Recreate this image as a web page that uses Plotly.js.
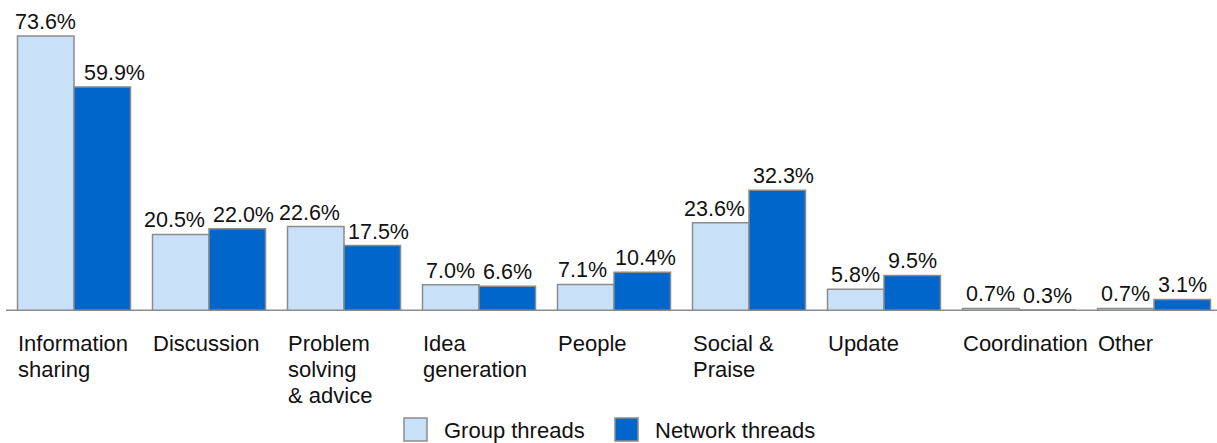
<!DOCTYPE html>
<html>
<head>
<meta charset="utf-8">
<script src="https://cdn.plot.ly/plotly-3.0.1.min.js"></script>
<style>html,body{margin:0;padding:0;background:#fff;}#chart{width:1217px;height:443px;}</style>
</head>
<body>
<div id="chart"></div>
<script>
var categories = ["Information<br>sharing", "Discussion", "Problem<br>solving<br>& advice", "Idea<br>generation", "People", "Social &<br>Praise", "Update", "Coordination", "Other"];
var groupThreads = [73.6, 20.5, 22.6, 7.0, 7.1, 23.6, 5.8, 0.7, 0.7];
var networkThreads = [59.9, 22.0, 17.5, 6.6, 10.4, 32.3, 9.5, 0.3, 3.1];
var seriesNames = ["Group threads", "Network threads"];

var W = 1217, H = 443;
var L = 6, T = 12, PW = 1211, PH = 299; // plot area
var PITCH = 135; // px per category
var BARGAP = 0.163;
var lightColor = "#c8e0f8", darkColor = "#0066cc", borderColor = "#8c8c8c";
var FONT = "Liberation Sans, Arial, sans-serif";
var VAL_SIZE = 21.5, CAT_SIZE = 22;

function px2paperX(px){ return (px - L) / PW; }
function px2paperY(py){ return (T + PH - py) / PH; }

var idx = categories.map(function(_, i){ return i; });

var traces = [
  {type: "bar", x: idx, y: groupThreads, name: seriesNames[0],
   marker: {color: lightColor, line: {color: borderColor, width: 1.5}}, hoverinfo: "none"},
  {type: "bar", x: idx, y: networkThreads, name: seriesNames[1],
   marker: {color: darkColor, line: {color: borderColor, width: 1.5}}, hoverinfo: "none"}
];

// value labels with simple overlap avoidance
var ctx = document.createElement("canvas").getContext("2d");
ctx.font = VAL_SIZE + "px 'Liberation Sans'";
function fmt(v){ return v.toFixed(1) + "%"; }
var half = (1 - BARGAP) / 4; // bar-center offset in axis units
var xRange0 = -(74 - L) / PITCH;
function dataToPx(x){ return L + (x - xRange0) * PITCH; }
var annotations = [];
var MIN_GAP = 8;
idx.forEach(function(i){
  var tA = fmt(groupThreads[i]), tB = fmt(networkThreads[i]);
  var wA = ctx.measureText(tA).width, wB = ctx.measureText(tB).width;
  var cA = dataToPx(i - half), cB = dataToPx(i + half);
  var gap = (cB - wB / 2) - (cA + wA / 2);
  var sA = 0, sB = 0;
  if (gap < MIN_GAP) {
    var need = MIN_GAP - gap;
    sA = -need / 2; sB = need / 2;
    var leftEdge = cA + sA - wA / 2;
    if (leftEdge < 15) { var fix = 15 - leftEdge; sA += fix; sB = need + sA; }
  }
  annotations.push({x: i - half, xref: "x", y: groupThreads[i], yref: "y", xshift: sA, yshift: 1,
    xanchor: "center", yanchor: "bottom", text: tA, showarrow: false, borderpad: 0,
    font: {family: FONT, size: VAL_SIZE, color: "#111"}});
  annotations.push({x: i + half, xref: "x", y: networkThreads[i], yref: "y", xshift: sB, yshift: 1,
    xanchor: "center", yanchor: "bottom", text: tB, showarrow: false, borderpad: 0,
    font: {family: FONT, size: VAL_SIZE, color: "#111"}});
});

var catOffset = (74 - 17) / PITCH;
categories.forEach(function(c, i){
  c.split("<br>").forEach(function(line, k){
    annotations.push({x: i - catOffset, xref: "x", y: 0, yref: "paper", yshift: -19 - 26 * k,
      xanchor: "left", yanchor: "top", text: line, showarrow: false, borderpad: 0,
      font: {family: FONT, size: CAT_SIZE, color: "#111"}});
  });
});

var shapes = [
  {type: "line", xref: "paper", yref: "y", x0: 0, x1: 1, y0: 0, y1: 0,
   line: {color: borderColor, width: 3}, layer: "above"}
];

// custom legend
var legendItems = [
  {sqX: 404, textX: 443, color: lightColor, name: seriesNames[0]},
  {sqX: 615, textX: 654, color: darkColor, name: seriesNames[1]}
];
legendItems.forEach(function(it){
  shapes.push({type: "rect", xref: "paper", yref: "paper",
    x0: px2paperX(it.sqX), x1: px2paperX(it.sqX + 23),
    y0: px2paperY(441), y1: px2paperY(418),
    fillcolor: it.color, line: {color: borderColor, width: 1.5}});
  annotations.push({x: px2paperX(it.textX), xref: "paper", y: px2paperY(430), yref: "paper",
    xanchor: "left", yanchor: "middle", text: it.name, showarrow: false, borderpad: 0,
    font: {family: FONT, size: CAT_SIZE, color: "#111"}});
});

var layout = {
  width: W, height: H,
  margin: {l: L, r: W - L - PW, t: T, b: H - T - PH, pad: 0},
  paper_bgcolor: "#fff", plot_bgcolor: "#fff",
  barmode: "group", bargap: BARGAP, bargroupgap: 0,
  showlegend: false,
  xaxis: {range: [xRange0, (W - 74) / PITCH], showticklabels: false, showgrid: false,
          zeroline: false, showline: false, ticks: "", fixedrange: true},
  yaxis: {range: [0, 80], visible: false, showgrid: false, zeroline: false, fixedrange: true},
  shapes: shapes,
  annotations: annotations,
  font: {family: FONT}
};

Plotly.newPlot("chart", traces, layout, {displayModeBar: false, staticPlot: true});
</script>
</body>
</html>
